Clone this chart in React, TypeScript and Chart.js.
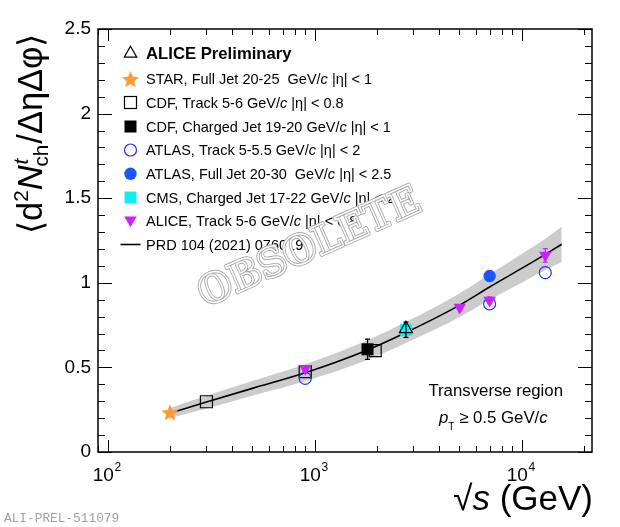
import React, { useEffect, useRef } from 'react';
import { Chart, registerables } from 'chart.js';

Chart.register(...registerables);

const FONT = '"Liberation Sans", Arial, Helvetica, sans-serif';

// ---------------- data ----------------
const starX = [200];
const starY = [0.235];

const cdfTrackX = [300, 900, 1960];
const cdfTrackY = [0.297, 0.475, 0.599];

const cdfJetX = [1800];
const cdfJetY = [0.607];
const cdfJetErr = [0.06];

const atlasTrackX = [900, 7000, 13000];
const atlasTrackY = [0.435, 0.875, 1.06];

const atlasJetX = [7000];
const atlasJetY = [1.04];
const atlasJetErr = [0.03];

const cmsX = [2760];
const cmsY = [0.722];
const cmsErr = [0.045];

const aliceTrackX = [900, 5020, 7000, 13000];
const aliceTrackY = [0.493, 0.855, 0.897, 1.162];
const aliceTrackErr = [0.015, 0.012, 0.02, 0.04];

const alicePrelX = [2760];
const alicePrelY = [0.728];

const modelX = [200, 300, 500, 900, 1800, 2760, 5020, 7000, 10000, 13000, 15600];
const modelY = [0.23, 0.295, 0.376, 0.468, 0.603, 0.706, 0.868, 0.975, 1.085, 1.168, 1.228];
const modelUp = [0.26, 0.333, 0.419, 0.518, 0.661, 0.768, 0.938, 1.05, 1.17, 1.26, 1.333];
const modelLow = [0.2, 0.257, 0.333, 0.418, 0.545, 0.644, 0.798, 0.9, 1.0, 1.076, 1.123];

const yTickLabels = ['0', '0.5', '1', '1.5', '2', '2.5'];
const xTickValues = [100, 1000, 10000];
const xTickExponents = ['2', '3', '4'];

type Piece = [string, boolean];
const legendEntries: { marker: string; pieces: Piece[]; bold?: boolean }[] = [
  { marker: 'triOpen', pieces: [['ALICE Preliminary', false]], bold: true },
  { marker: 'star', pieces: [['STAR, Full Jet 20-25  GeV/', false], ['c', true], [' |η| < 1', false]] },
  { marker: 'sqOpen', pieces: [['CDF, Track 5-6 GeV/', false], ['c', true], [' |η| < 0.8', false]] },
  { marker: 'sqFill', pieces: [['CDF, Charged Jet 19-20 GeV/', false], ['c', true], [' |η| < 1', false]] },
  { marker: 'circOpen', pieces: [['ATLAS, Track 5-5.5 GeV/', false], ['c', true], [' |η| < 2', false]] },
  { marker: 'circFill', pieces: [['ATLAS, Full Jet 20-30  GeV/', false], ['c', true], [' |η| < 2.5', false]] },
  { marker: 'sqCyan', pieces: [['CMS, Charged Jet 17-22 GeV/', false], ['c', true], [' |η| < 2', false]] },
  { marker: 'triDown', pieces: [['ALICE, Track 5-6 GeV/', false], ['c', true], [' |η| < 0.8', false]] },
  { marker: 'line', pieces: [['PRD 104 (2021) 076019', false]] },
];

// ---------------- colours ----------------
const ORANGE = '#ff9933';
const BLUE_OPEN = '#2233ee';
const BLUE_FILL = '#1a55ff';
const CYAN = '#11eeee';
const MAGENTA = '#cc22ff';
const BAND = '#cccccc';

const zip = (xs: number[], ys: number[]) => xs.map((x, i) => ({ x, y: ys[i] }));

function makeStar(size: number, color: string) {
  const c = document.createElement('canvas');
  c.width = size;
  c.height = size;
  const ctx = c.getContext('2d')!;
  const R = size / 2;
  const r = R * 0.45;
  ctx.beginPath();
  for (let i = 0; i < 10; i++) {
    const a = -Math.PI / 2 + (i * Math.PI) / 5;
    const rad = i % 2 === 0 ? R : r;
    const px = R + Math.cos(a) * rad;
    const py = R + 1 + Math.sin(a) * rad;
    if (i === 0) ctx.moveTo(px, py);
    else ctx.lineTo(px, py);
  }
  ctx.closePath();
  ctx.fillStyle = color;
  ctx.fill();
  return c;
}

function tri(ctx: CanvasRenderingContext2D, x: number, y: number, r: number, down: boolean) {
  const s = down ? -1 : 1;
  ctx.beginPath();
  ctx.moveTo(x, y - s * r);
  ctx.lineTo(x + r * 0.866, y + s * r * 0.5);
  ctx.lineTo(x - r * 0.866, y + s * r * 0.5);
  ctx.closePath();
}

function legendMarker(ctx: CanvasRenderingContext2D, kind: string, x: number, y: number, star: HTMLCanvasElement) {
  ctx.save();
  ctx.lineWidth = 1.2;
  switch (kind) {
    case 'triOpen':
      tri(ctx, x, y + 1, 7.2, false);
      ctx.strokeStyle = '#000';
      ctx.stroke();
      break;
    case 'star':
      ctx.drawImage(star, x - star.width / 2, y - star.height / 2);
      break;
    case 'sqOpen':
      ctx.strokeStyle = '#000';
      ctx.strokeRect(x - 6, y - 6, 12, 12);
      break;
    case 'sqFill':
      ctx.fillStyle = '#000';
      ctx.fillRect(x - 6, y - 6, 12, 12);
      break;
    case 'circOpen':
      ctx.beginPath();
      ctx.arc(x, y, 6, 0, Math.PI * 2);
      ctx.strokeStyle = BLUE_OPEN;
      ctx.stroke();
      break;
    case 'circFill':
      ctx.beginPath();
      ctx.arc(x, y, 6.2, 0, Math.PI * 2);
      ctx.fillStyle = BLUE_FILL;
      ctx.fill();
      break;
    case 'sqCyan':
      ctx.fillStyle = CYAN;
      ctx.fillRect(x - 6, y - 6, 12, 12);
      break;
    case 'triDown':
      tri(ctx, x, y - 1, 7.2, true);
      ctx.fillStyle = MAGENTA;
      ctx.fill();
      break;
    case 'line':
      ctx.beginPath();
      ctx.moveTo(x - 10, y);
      ctx.lineTo(x + 10, y);
      ctx.strokeStyle = '#000';
      ctx.lineWidth = 1.6;
      ctx.stroke();
      break;
  }
  ctx.restore();
}

function drawPieces(ctx: CanvasRenderingContext2D, x: number, y: number, pieces: Piece[], size: number, bold = false) {
  let cx = x;
  for (const [t, it] of pieces) {
    ctx.font = `${it ? 'italic ' : ''}${bold ? 'bold ' : ''}${size}px ${FONT}`;
    ctx.fillText(t, cx, y);
    cx += ctx.measureText(t).width;
  }
  return cx - x;
}

export default function App() {
  const ref = useRef<HTMLCanvasElement>(null);

  useEffect(() => {
    const canvas = ref.current!;
    const star = makeStar(18, ORANGE);

    const errorBars = {
      id: 'errorBars',
      afterDatasetsDraw(chart: any) {
        const ctx = chart.ctx as CanvasRenderingContext2D;
        const xs = chart.scales.x;
        const ys = chart.scales.y;
        chart.data.datasets.forEach((ds: any) => {
          if (!ds.errY) return;
          ctx.save();
          ctx.strokeStyle = ds.errColor || '#000';
          ctx.lineWidth = 1.2;
          ds.data.forEach((p: any, i: number) => {
            const e = ds.errY[i];
            const px = xs.getPixelForValue(p.x);
            const y1 = ys.getPixelForValue(p.y + e);
            const y2 = ys.getPixelForValue(p.y - e);
            ctx.beginPath();
            ctx.moveTo(px, y1);
            ctx.lineTo(px, y2);
            ctx.moveTo(px - 2.5, y1);
            ctx.lineTo(px + 2.5, y1);
            ctx.moveTo(px - 2.5, y2);
            ctx.lineTo(px + 2.5, y2);
            ctx.stroke();
          });
          ctx.restore();
        });
      },
    };

    const decorations = {
      id: 'decorations',
      afterDraw(chart: any) {
        const ctx = chart.ctx as CanvasRenderingContext2D;
        const a = chart.chartArea;
        const xs = chart.scales.x;
        const ys = chart.scales.y;
        ctx.save();

        // ticks (inward), both sides
        ctx.strokeStyle = '#000';
        ctx.lineWidth = 1;
        ctx.beginPath();
        for (let i = 0; i <= 25; i++) {
          const v = i / 10;
          const py = Math.round(ys.getPixelForValue(v)) + 0.5;
          const major = i % 5 === 0;
          const lenL = major ? 14 : 7;
          ctx.moveTo(a.left, py);
          ctx.lineTo(a.left + lenL, py);
          ctx.moveTo(a.right, py);
          ctx.lineTo(a.right - lenL, py);
        }
        for (let dec = 10; dec <= 10000; dec *= 10) {
          for (let m = 1; m <= 9; m++) {
            const v = dec * m;
            if (v < xs.min || v > xs.max) continue;
            const px = Math.round(xs.getPixelForValue(v)) + 0.5;
            const len = m === 1 ? 12 : 6;
            ctx.moveTo(px, a.bottom);
            ctx.lineTo(px, a.bottom - len);
            ctx.moveTo(px, a.top);
            ctx.lineTo(px, a.top + len);
          }
        }
        ctx.stroke();

        // frame
        ctx.lineWidth = 1.5;
        ctx.strokeRect(a.left, a.top, a.right - a.left, a.bottom - a.top);

        // x tick labels 10^n
        ctx.fillStyle = '#000';
        ctx.textBaseline = 'alphabetic';
        xTickValues.forEach((v, i) => {
          const px = xs.getPixelForValue(v);
          ctx.font = `19px ${FONT}`;
          const w10 = ctx.measureText('10').width;
          ctx.font = `12px ${FONT}`;
          const we = ctx.measureText(xTickExponents[i]).width;
          const x0 = px - (w10 + we) / 2 - 1;
          ctx.font = `19px ${FONT}`;
          ctx.fillText('10', x0, 481);
          ctx.font = `12px ${FONT}`;
          ctx.fillText(xTickExponents[i], x0 + w10 + 0.5, 471);
        });

        // x axis title: √s (GeV)
        {
          const size = 35;
          ctx.font = `${size}px ${FONT}`;
          const w1 = ctx.measureText('√').width;
          ctx.font = `italic ${size}px ${FONT}`;
          const w2 = ctx.measureText('s').width;
          ctx.font = `${size}px ${FONT}`;
          const w3 = ctx.measureText(' (GeV)').width;
          const x0 = a.right + 1 - (w1 + w2 + w3);
          ctx.fillText('√', x0, 510);
          ctx.font = `italic ${size}px ${FONT}`;
          ctx.fillText('s', x0 + w1, 510);
          ctx.font = `${size}px ${FONT}`;
          ctx.fillText(' (GeV)', x0 + w1 + w2, 510);
        }

        // y axis title, rotated
        {
          const measure = (F: number) => {
            ctx.font = `${F}px ${FONT}`;
            let w = ctx.measureText('⟨d').width;
            ctx.font = `${F * 0.6}px ${FONT}`;
            w += ctx.measureText('2').width;
            ctx.font = `italic ${F}px ${FONT}`;
            w += ctx.measureText('N').width;
            ctx.font = `${F * 0.6}px ${FONT}`;
            w += ctx.measureText('ch').width;
            ctx.font = `${F}px ${FONT}`;
            w += ctx.measureText('/ΔηΔφ⟩').width;
            return w;
          };
          const target = 202;
          const F = 30 * (target / measure(30));
          ctx.save();
          ctx.translate(42, 234);
          ctx.rotate(-Math.PI / 2);
          let x = 0;
          ctx.font = `${F}px ${FONT}`;
          ctx.fillText('⟨d', x, 0);
          x += ctx.measureText('⟨d').width;
          ctx.font = `${F * 0.6}px ${FONT}`;
          ctx.fillText('2', x, -F * 0.42);
          x += ctx.measureText('2').width;
          ctx.font = `italic ${F}px ${FONT}`;
          ctx.fillText('N', x, 0);
          x += ctx.measureText('N').width;
          ctx.font = `italic ${F * 0.6}px ${FONT}`;
          ctx.fillText('t', x + 1, -F * 0.42);
          ctx.font = `${F * 0.6}px ${FONT}`;
          ctx.fillText('ch', x - 1, F * 0.18);
          x += ctx.measureText('ch').width;
          ctx.font = `${F}px ${FONT}`;
          ctx.fillText('/ΔηΔφ⟩', x, 0);
          ctx.restore();
        }

        // legend
        const rows = [52.5, 79, 102.5, 126.5, 150, 173.8, 197.5, 221, 244.5];
        legendEntries.forEach((e, i) => {
          const y = rows[i];
          legendMarker(ctx, e.marker, 130.5, y, star);
          ctx.fillStyle = '#000';
          const size = e.bold ? 16.7 : 14.5;
          drawPieces(ctx, 146, y + size * 0.36, e.pieces, size, !!e.bold);
        });

        // annotations
        ctx.fillStyle = '#000';
        {
          const size = 16.8;
          ctx.font = `${size}px ${FONT}`;
          ctx.textAlign = 'right';
          ctx.fillText('Transverse region', 563, 396);
          ctx.textAlign = 'left';
          let x = 439;
          ctx.font = `italic ${size}px ${FONT}`;
          ctx.fillText('p', x, 423);
          x += ctx.measureText('p').width;
          ctx.font = `${size * 0.6}px ${FONT}`;
          ctx.fillText('T', x, 430);
          x += ctx.measureText('T').width;
          ctx.font = `${size}px ${FONT}`;
          ctx.fillText(' ≥ 0.5 GeV/', x, 423);
          x += ctx.measureText(' ≥ 0.5 GeV/').width;
          ctx.font = `italic ${size}px ${FONT}`;
          ctx.fillText('c', x, 423);
        }

        // ALI-PREL label
        ctx.fillStyle = '#a0a0a0';
        ctx.font = `12.8px "Liberation Mono", "DejaVu Sans Mono", monospace`;
        ctx.fillText('ALI-PREL-511079', 4, 522);

        // OBSOLETE watermark (hollow outlined letters)
        {
          ctx.save();
          ctx.translate(310, 249);
          ctx.rotate((-24 * Math.PI) / 180);
          ctx.font = `bold 40px "DejaVu Serif", serif`;
          const w = ctx.measureText('OBSOLETE').width;
          ctx.scale(238 / w, 1);
          ctx.textAlign = 'center';
          ctx.textBaseline = 'middle';
          ctx.lineJoin = 'round';
          ctx.fillStyle = '#ffffff';
          ctx.fillText('OBSOLETE', 0, 0);
          ctx.strokeStyle = '#a8a8a8';
          ctx.lineWidth = 3.4;
          ctx.strokeText('OBSOLETE', 0, 0);
          ctx.strokeStyle = '#ffffff';
          ctx.lineWidth = 1.5;
          ctx.strokeText('OBSOLETE', 0, 0);
          ctx.restore();
        }

        ctx.restore();
      },
    };

    const chart = new Chart(canvas, {
      type: 'scatter',
      data: {
        datasets: [
          {
            label: 'band up',
            data: zip(modelX, modelUp),
            showLine: true,
            borderWidth: 0,
            pointRadius: 0,
            backgroundColor: BAND,
            borderColor: BAND,
            fill: '+1',
            cubicInterpolationMode: 'monotone',
            order: 50,
          } as any,
          {
            label: 'band low',
            data: zip(modelX, modelLow),
            showLine: true,
            borderWidth: 0,
            pointRadius: 0,
            borderColor: BAND,
            fill: false,
            cubicInterpolationMode: 'monotone',
            order: 50,
          } as any,
          {
            label: 'PRD 104 (2021) 076019',
            data: zip(modelX, modelY),
            showLine: true,
            borderWidth: 1.6,
            borderColor: '#000',
            pointRadius: 0,
            fill: false,
            cubicInterpolationMode: 'monotone',
            order: 40,
          } as any,
          {
            label: 'CDF Track',
            data: zip(cdfTrackX, cdfTrackY),
            pointStyle: 'rect',
            pointRadius: 8.5,
            pointBorderWidth: 1.2,
            borderColor: '#000',
            backgroundColor: 'rgba(0,0,0,0)',
            order: 30,
          } as any,
          {
            label: 'ATLAS Track',
            data: zip(atlasTrackX, atlasTrackY),
            pointStyle: 'circle',
            pointRadius: 6,
            pointBorderWidth: 1.2,
            borderColor: BLUE_OPEN,
            backgroundColor: 'rgba(0,0,0,0)',
            order: 28,
          } as any,
          {
            label: 'STAR',
            data: zip(starX, starY),
            pointStyle: star,
            order: 26,
          } as any,
          {
            label: 'CDF Jet',
            data: zip(cdfJetX, cdfJetY),
            pointStyle: 'rect',
            pointRadius: 8.5,
            pointBorderWidth: 0,
            borderColor: '#000',
            backgroundColor: '#000',
            errY: cdfJetErr,
            errColor: '#000',
            order: 20,
          } as any,
          {
            label: 'ATLAS Jet',
            data: zip(atlasJetX, atlasJetY),
            pointStyle: 'circle',
            pointRadius: 6.2,
            pointBorderWidth: 0,
            borderColor: BLUE_FILL,
            backgroundColor: BLUE_FILL,
            errY: atlasJetErr,
            errColor: BLUE_FILL,
            order: 18,
          } as any,
          {
            label: 'CMS',
            data: zip(cmsX, cmsY),
            pointStyle: 'rect',
            pointRadius: 8.5,
            pointBorderWidth: 0,
            borderColor: CYAN,
            backgroundColor: CYAN,
            errY: cmsErr,
            errColor: '#000',
            order: 16,
          } as any,
          {
            label: 'ALICE Preliminary',
            data: zip(alicePrelX, alicePrelY),
            pointStyle: 'triangle',
            pointRadius: 7.5,
            pointBorderWidth: 1.2,
            borderColor: '#000',
            backgroundColor: 'rgba(0,0,0,0)',
            order: 14,
          } as any,
          {
            label: 'ALICE Track',
            data: zip(aliceTrackX, aliceTrackY),
            pointStyle: 'triangle',
            pointRotation: 180,
            pointRadius: 7.2,
            pointBorderWidth: 0,
            borderColor: MAGENTA,
            backgroundColor: MAGENTA,
            errY: aliceTrackErr,
            errColor: MAGENTA,
            order: 10,
          } as any,
        ],
      },
      options: {
        animation: false,
        responsive: true,
        maintainAspectRatio: false,
        layout: { padding: { left: 0, right: 28, top: 29, bottom: 0 } },
        plugins: {
          legend: { display: false },
          tooltip: { enabled: false },
        },
        scales: {
          x: {
            type: 'logarithmic',
            min: 89.8,
            max: 21860,
            afterBuildTicks: (s: any) => {
              s.ticks = xTickValues.map((v) => ({ value: v }));
            },
            afterFit: (s: any) => {
              s.height = 75;
            },
            ticks: { display: false },
            grid: { display: false },
            border: { display: false },
          },
          y: {
            type: 'linear',
            min: 0,
            max: 2.5,
            afterBuildTicks: (s: any) => {
              s.ticks = yTickLabels.map((t) => ({ value: parseFloat(t) }));
            },
            afterFit: (s: any) => {
              s.width = 98;
            },
            ticks: {
              font: { family: FONT, size: 19 },
              color: '#000',
              padding: 7,
              callback: (_v: any, i: number) => yTickLabels[i],
            },
            grid: { display: false, drawTicks: false },
            border: { display: false },
          },
        },
      } as any,
      plugins: [errorBars, decorations],
    });

    return () => chart.destroy();
  }, []);

  return (
    <div style={{ position: 'fixed', left: 0, top: 0, width: 620, height: 527 }}>
      <canvas ref={ref} />
    </div>
  );
}
